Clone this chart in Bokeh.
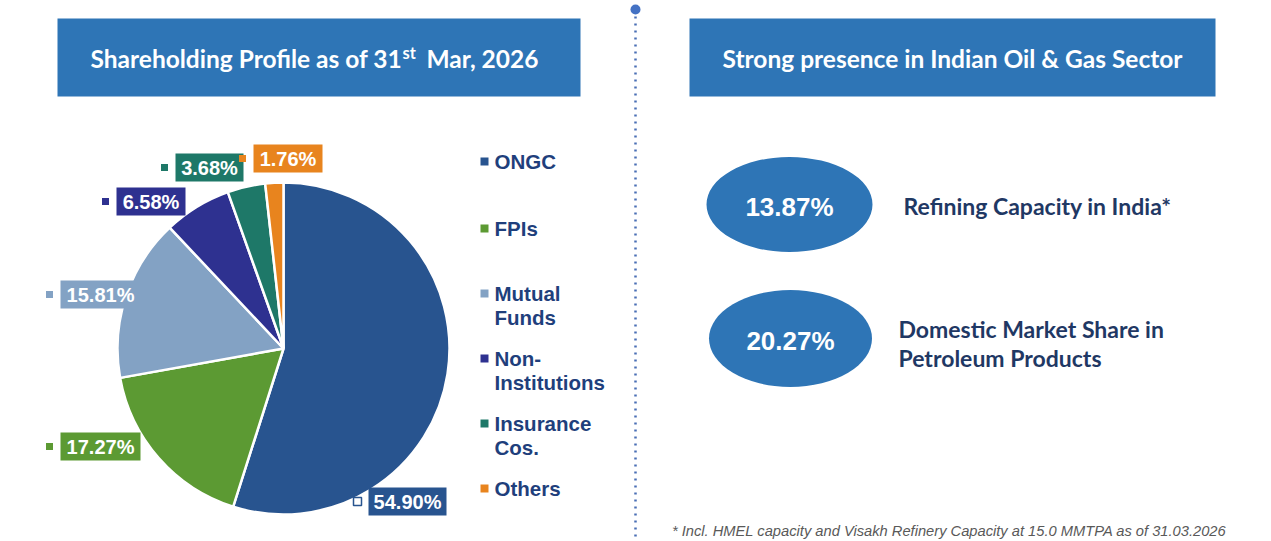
import math
from bokeh.plotting import figure
from bokeh.models import Range1d, ColumnDataSource
from bokeh.core.properties import value
from bokeh.embed import file_html
from bokeh.resources import INLINE

W, H = 1271, 541

# ---------------- data ----------------
categories = ["ONGC", "FPIs", "Mutual Funds", "Non-Institutions", "Insurance Cos.", "Others"]
shares = [54.90, 17.27, 15.81, 6.58, 3.68, 1.76]
share_labels = ["54.90%", "17.27%", "15.81%", "6.58%", "3.68%", "1.76%"]
legend_lines = [["ONGC"], ["FPIs"], ["Mutual", "Funds"], ["Non-", "Institutions"], ["Insurance", "Cos."], ["Others"]]

metric_values = ["13.87%", "20.27%"]
metric_texts = [["Refining Capacity in India*"], ["Domestic Market Share in", "Petroleum Products"]]

left_title = ["Shareholding Profile as of 31", "st", "Mar, 2026"]
right_title = "Strong presence in Indian Oil & Gas Sector"
footnote = "* Incl. HMEL capacity and Visakh Refinery Capacity at 15.0 MMTPA as of 31.03.2026"

# ---------------- styles / layout ----------------
slice_colors = ["#28548F", "#5C9A33", "#83A2C4", "#2E3190", "#1E7868", "#E8841E"]
box_blue = "#2E75B6"
navy = "#1F3F7C"
navy2 = "#1F3864"
ARIAL = value("Liberation Sans")
CAL = value("Lato")


def Y(py):
    return H - py


p = figure(width=W, height=H, x_range=Range1d(0, W), y_range=Range1d(0, H),
           output_backend="svg", toolbar_location=None, min_border=0,
           background_fill_color="white", border_fill_color="white")
p.axis.visible = False
p.grid.visible = False
p.outline_line_color = None

# ---- title boxes ----
p.quad(left=[57, 689], right=[580, 1215], top=[Y(18), Y(18)], bottom=[Y(96), Y(96)],
       fill_color=box_blue, line_color=None)
ty = Y(58)
p.text(x=[90], y=[ty], text=[left_title[0]], text_font=CAL, text_font_style="bold",
       text_font_size="24.5px", text_color="white", text_baseline="middle", text_align="left")
p.text(x=[402], y=[Y(52)], text=[left_title[1]], text_font=CAL, text_font_style="bold",
       text_font_size="16.5px", text_color="white", text_baseline="middle", text_align="left")
p.text(x=[426], y=[ty], text=[left_title[2]], text_font=CAL, text_font_style="bold",
       text_font_size="24.5px", text_color="white", text_baseline="middle", text_align="left")
p.text(x=[952], y=[ty], text=[right_title], text_font=CAL, text_font_style="bold",
       text_font_size="24.5px", text_color="white", text_baseline="middle", text_align="center")

# ---- pie ----
cx, cy, r = 283, Y(348), 166
total = sum(shares)
starts, ends = [], []
cum = 0.0
for s in shares:
    a0 = cum / total
    cum += s
    a1 = cum / total
    # clockwise from 12 o'clock
    starts.append(math.pi / 2 - a1 * 2 * math.pi)
    ends.append(math.pi / 2 - a0 * 2 * math.pi)
src = ColumnDataSource(dict(start=starts, end=ends, color=slice_colors, cat=categories))
p.wedge(x=cx, y=cy, radius=r, start_angle="start", end_angle="end", direction="anticlock",
        fill_color="color", line_color="white", line_width=2.5, source=src)

# ---- data labels (positions are layout) ----
lab_left = [368, 60, 60, 116, 175, 253]
lab_right = [446, 140, 140, 185, 243, 322]
lab_cy = [501, 446, 294, 201, 167, 158]
for i, t in enumerate(share_labels):
    yc = Y(lab_cy[i])
    p.quad(left=[lab_left[i]], right=[lab_right[i]], top=[yc + 14], bottom=[yc - 14],
           fill_color=slice_colors[i], line_color=None)
    p.text(x=[(lab_left[i] + lab_right[i]) / 2], y=[yc], text=[t], text_font=ARIAL,
           text_font_style="bold", text_font_size="20px", text_color="white",
           text_baseline="middle", text_align="center")
    mx = lab_left[i] - 11
    if i == 0:
        p.scatter(x=[mx], y=[yc], marker="square", size=8, fill_color="white",
                  line_color=slice_colors[i], line_width=1.5)
    else:
        p.scatter(x=[mx], y=[yc], marker="square", size=7, fill_color=slice_colors[i],
                  line_color=None)

# ---- legend ----
leg_y = [161, 228, 293, 358, 423, 488]
for i, lines in enumerate(legend_lines):
    p.scatter(x=[484], y=[Y(leg_y[i])], marker="square", size=8, fill_color=slice_colors[i],
              line_color=None)
    for j, ln in enumerate(lines):
        p.text(x=[494], y=[Y(leg_y[i] + 24 * j)], text=[ln], text_font=ARIAL,
               text_font_style="bold", text_font_size="20.5px", text_color=navy,
               text_baseline="middle", text_align="left")

# ---- divider ----
p.segment(x0=[635], y0=[Y(16)], x1=[635], y1=[Y(541)], line_color="#4A6FB5",
          line_width=2.5, line_dash="2 5")
p.scatter(x=[635], y=[Y(9)], marker="circle", size=10, fill_color="#4472C4", line_color=None)

# ---- metrics ----
ell_cx = [789, 790]
ell_cy = [204, 338]
ell_w = [166, 163]
ell_h = [95, 97]
p.ellipse(x=ell_cx, y=[Y(v) for v in ell_cy], width=ell_w, height=ell_h,
          fill_color=box_blue, line_color=None)
for i, v in enumerate(metric_values):
    p.text(x=[ell_cx[i]], y=[Y(ell_cy[i] + 2)], text=[v], text_font=ARIAL,
           text_font_style="bold", text_font_size="26px", text_color="white",
           text_baseline="middle", text_align="center")
txt_x = [903, 898]
txt_y = [[205], [328, 357]]
for i, lines in enumerate(metric_texts):
    for j, ln in enumerate(lines):
        p.text(x=[txt_x[i]], y=[Y(txt_y[i][j])], text=[ln], text_font=CAL,
               text_font_style="bold", text_font_size="23px", text_color=navy2,
               text_baseline="middle", text_align="left")

# ---- footnote ----
p.text(x=[1226], y=[Y(530)], text=[footnote], text_font=ARIAL, text_font_style="italic",
       text_font_size="14.7px", text_color="#595959", text_baseline="middle", text_align="right")

open("out.html", "w").write(file_html(p, INLINE))
